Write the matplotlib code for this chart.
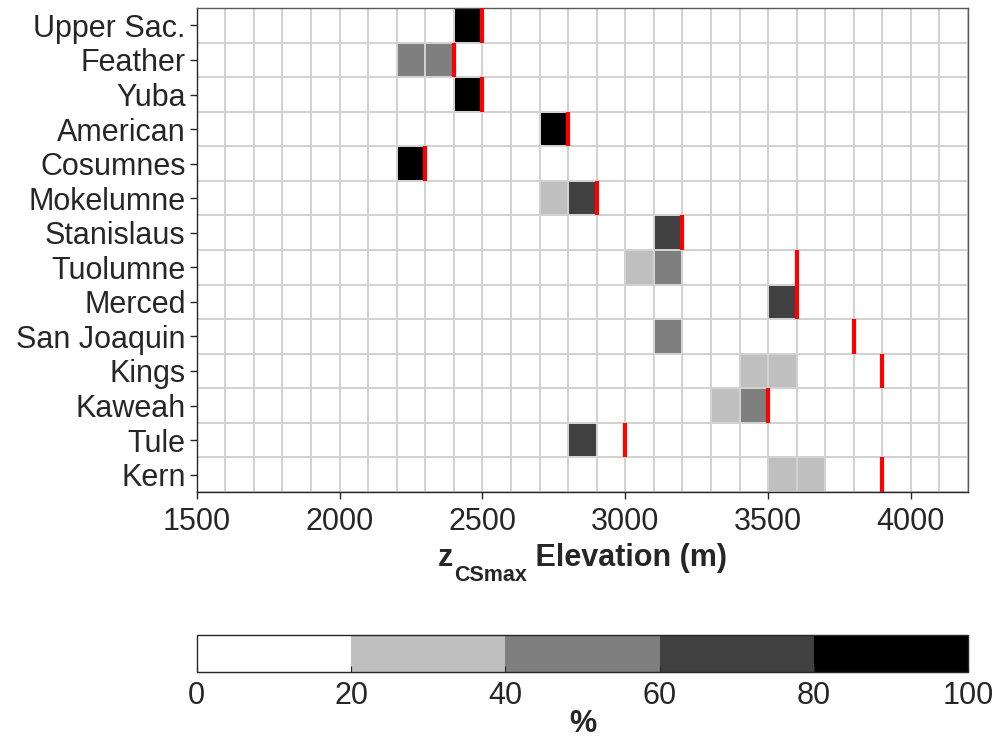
import numpy as np
import matplotlib
matplotlib.use("Agg")
import matplotlib.pyplot as plt
from matplotlib.colors import ListedColormap, BoundaryNorm
from matplotlib.transforms import IdentityTransform

plt.rcParams['font.family'] = ['Liberation Sans', 'DejaVu Sans']

basins = ["Upper Sac.", "Feather", "Yuba", "American", "Cosumnes", "Mokelumne",
          "Stanislaus", "Tuolumne", "Merced", "San Joaquin", "Kings", "Kaweah",
          "Tule", "Kern"]

# elevation bins (m) of 100 m width
bin_edges = np.arange(1500, 4201, 100)

# non-empty cells: basin index, bin lower edge (m), percent of years
cell_basin = [0, 1, 1, 2, 3, 4, 5, 5, 6, 7, 7, 8, 9, 10, 10, 11, 11, 12, 13, 13]
cell_elev = [2400, 2200, 2300, 2400, 2700, 2200, 2700, 2800, 3100, 3000, 3100,
             3500, 3100, 3400, 3500, 3300, 3400, 2800, 3500, 3600]
cell_pct = [100, 50, 50, 100, 100, 100, 30, 70, 70, 35, 55, 70, 50, 30, 30,
            35, 55, 70, 30, 30]

# red marker elevation per basin (m)
zmax_elev = [2500, 2400, 2500, 2800, 2300, 2900, 3200, 3600, 3600, 3800,
             3900, 3500, 3000, 3900]

grid = np.zeros((len(basins), len(bin_edges) - 1))
for b, e, p in zip(cell_basin, cell_elev, cell_pct):
    grid[b, (e - bin_edges[0]) // 100] = p

cmap = ListedColormap(["#ffffff", "#bfbfbf", "#7f7f7f", "#404040", "#000000"])
levels = [0, 20, 40, 60, 80, 100]
norm = BoundaryNorm(levels, cmap.N)

FS = 22
TXT = "#262626"
DPI = 100

fig = plt.figure(figsize=(9.99, 7.42), dpi=DPI)
ax = fig.add_axes([0.197, 0.337, 0.772, 0.652])
row_edges = np.arange(len(basins) + 1)
mesh = ax.pcolormesh(bin_edges, row_edges, grid, cmap=cmap, norm=norm,
                     edgecolors="#d2d2d2", linewidth=1.1)
for i, z in enumerate(zmax_elev):
    ax.plot([z, z], [i, i + 1], color="#ff0000", lw=3.0, solid_capstyle="butt",
            zorder=5, clip_on=False)

ax.set_xlim(bin_edges[0], bin_edges[-1])
ax.set_ylim(len(basins), 0)
ax.set_yticks(np.arange(len(basins)) + 0.5)
ax.set_yticklabels(basins)
ax.set_xticks(np.arange(1500, 4001, 500))
ax.tick_params(axis="both", labelsize=FS, colors=TXT, direction="out",
               length=5, width=1)
ax.tick_params(axis="x", pad=6)
ax.tick_params(axis="y", pad=3)
for side in ["left", "bottom"]:
    ax.spines[side].set_color(TXT)
    ax.spines[side].set_linewidth(1)
for side in ["top", "right"]:
    ax.spines[side].set_color("#5a5a5a")
    ax.spines[side].set_linewidth(1)

cax = fig.add_axes([0.197, 0.094, 0.772, 0.050])
cb = fig.colorbar(mesh, cax=cax, orientation="horizontal", ticks=levels)
cb.outline.set_edgecolor(TXT)
cb.outline.set_linewidth(1)
cax.tick_params(labelsize=FS, colors=TXT, direction="in", length=4, pad=6)
cb.set_label("%", fontsize=FS, fontweight="bold", color=TXT, labelpad=-1)

# x-axis label with a dropped subscript, laid out piece by piece in pixels
fig.canvas.draw()
renderer = fig.canvas.get_renderer()
fig_h = fig.get_size_inches()[1] * DPI
baseline = fig_h - 566
pieces = [("z", FS, 0), ("CSmax", 15.5, -15), (" Elevation (m)", FS, 0)]
label_texts = []
for s, size, dy in pieces:
    t = fig.text(0, baseline + dy, s, fontsize=size, fontweight="bold",
                 color=TXT, va="baseline", ha="left",
                 transform=IdentityTransform())
    label_texts.append(t)
widths = [t.get_window_extent(renderer).width for t in label_texts]
ax_box = ax.get_window_extent(renderer)
x = (ax_box.x0 + ax_box.x1) / 2 - (sum(widths) + 1) / 2
for t, w in zip(label_texts, widths):
    t.set_x(x)
    x += w + (1 if t is label_texts[0] else 0)

fig.savefig("out.png", dpi=DPI, facecolor="white")
